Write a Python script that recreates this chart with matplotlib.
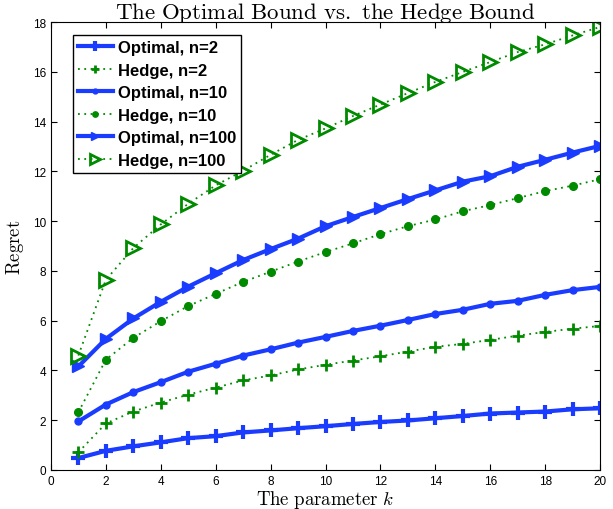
import matplotlib
matplotlib.use('Agg')
import matplotlib.pyplot as plt

plt.rcParams['mathtext.fontset'] = 'cm'

k = list(range(1, 21))

opt_n2 = [0.48, 0.77, 0.95, 1.11, 1.28, 1.36, 1.51, 1.59, 1.68, 1.76,
          1.85, 1.93, 1.99, 2.08, 2.17, 2.27, 2.31, 2.35, 2.44, 2.48]
hedge_n2 = [0.71, 1.87, 2.35, 2.71, 3.03, 3.31, 3.60, 3.80, 4.04, 4.23,
            4.40, 4.57, 4.76, 4.95, 5.07, 5.23, 5.40, 5.55, 5.68, 5.79]
opt_n10 = [1.95, 2.63, 3.13, 3.53, 3.95, 4.27, 4.60, 4.85, 5.12, 5.35,
           5.59, 5.80, 6.03, 6.27, 6.44, 6.68, 6.80, 7.04, 7.23, 7.36]
hedge_n10 = [2.32, 4.43, 5.31, 5.98, 6.59, 7.08, 7.56, 7.97, 8.38, 8.76,
             9.11, 9.48, 9.80, 10.07, 10.40, 10.65, 10.93, 11.21, 11.43, 11.69]
opt_n100 = [4.16, 5.27, 6.09, 6.76, 7.37, 7.91, 8.44, 8.88, 9.30, 9.80,
            10.17, 10.53, 10.89, 11.24, 11.59, 11.81, 12.19, 12.47, 12.76, 13.03]
hedge_n100 = [4.60, 7.64, 8.92, 9.87, 10.70, 11.44, 12.03, 12.67, 13.27, 13.73,
              14.23, 14.69, 15.15, 15.60, 16.00, 16.40, 16.80, 17.11, 17.47, 17.81]

blue = '#1a3cff'
green = '#008a00'
dots = (0, (1, 2.5))

fig = plt.figure(figsize=(6.13, 5.10), dpi=100)
ax = fig.add_axes([0.083, 0.0765, 0.896, 0.878])

# courbes optimales (trait plein bleu) et Hedge (pointillé vert)
ax.plot(k, opt_n2, '-', color=blue, lw=3, marker='+', ms=10, mew=3, label='Optimal, n=2')
ax.plot(k, hedge_n2, linestyle=dots, color=green, lw=1.3, marker='+', ms=9, mew=2,
        label='Hedge, n=2')
ax.plot(k, opt_n10, '-', color=blue, lw=3, marker='.', ms=10, label='Optimal, n=10')
ax.plot(k, hedge_n10, linestyle=dots, color=green, lw=1.3, marker='.', ms=11,
        label='Hedge, n=10')
ax.plot(k, opt_n100, '-', color=blue, lw=3, marker='>', ms=9, label='Optimal, n=100')
ax.plot(k, hedge_n100, linestyle=dots, color=green, lw=1.3, marker='>', ms=10, mew=2,
        mfc='none', label='Hedge, n=100')

ax.set_xlim(0, 20)
ax.set_ylim(0, 18)
ax.set_xticks(range(0, 21, 2))
ax.set_yticks(range(0, 19, 2))
ax.tick_params(direction='in', top=True, right=True, length=4)
for lab in ax.get_xticklabels() + ax.get_yticklabels():
    lab.set_fontfamily('Liberation Sans')
    lab.set_fontsize(8.5)

ax.set_title(r'$\mathrm{The\ Optimal\ Bound\ vs.\ the\ Hedge\ Bound}$', fontsize=16.5, pad=3)
ax.set_xlabel(r'$\mathrm{The\ parameter}\ k$', fontsize=13.5, labelpad=1)
ax.set_ylabel(r'$\mathrm{Regret}$', fontsize=13.5, labelpad=5)

leg = ax.legend(loc='upper left', bbox_to_anchor=(0.025, 0.99), fancybox=False,
                edgecolor='black', framealpha=1, borderpad=0.3, labelspacing=0.45,
                handlelength=2.1, handletextpad=0.3, markerscale=0.7,
                prop={'family': 'Liberation Sans', 'weight': 'bold', 'size': 12})
leg.get_frame().set_linewidth(1.0)

fig.savefig('out.png', dpi=100)
